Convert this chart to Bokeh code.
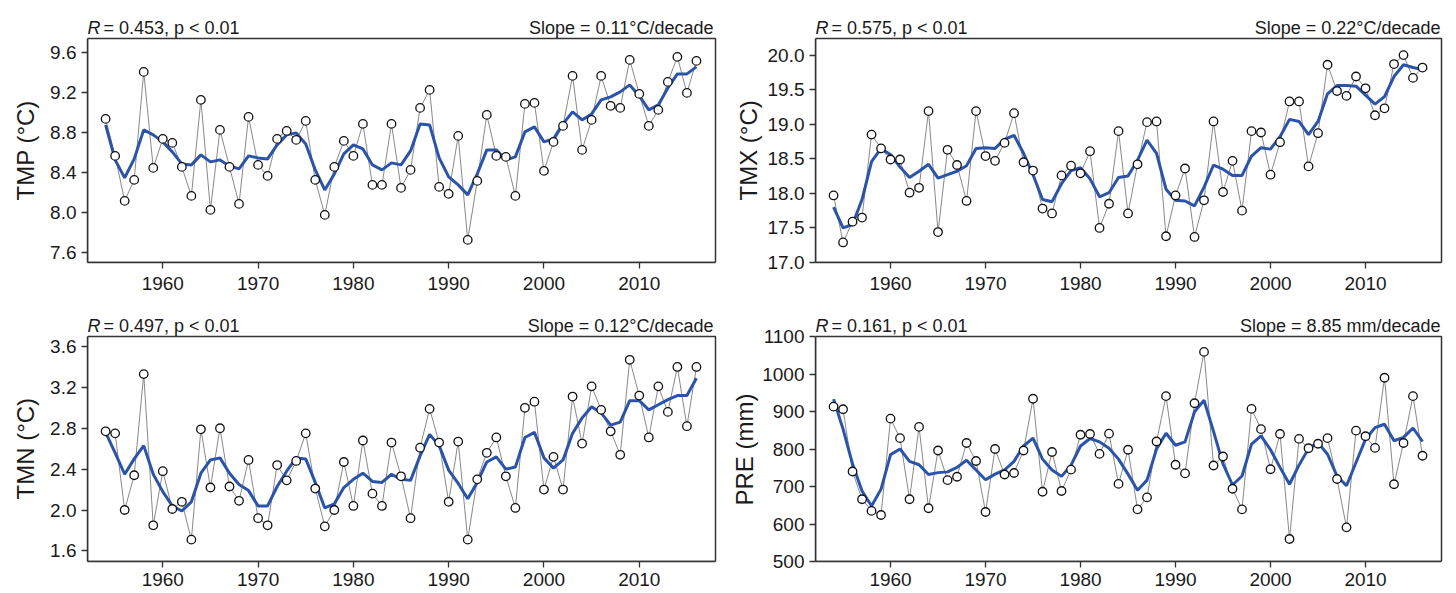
from bokeh.plotting import figure
from bokeh.layouts import gridplot
from bokeh.models import Range1d, FixedTicker, PrintfTickFormatter, Label, Title
from bokeh.embed import file_html
from bokeh.resources import INLINE

years = list(range(1954, 2017))
x_ticks = [1960, 1970, 1980, 1990, 2000, 2010]

tmp_obs = [8.94, 8.57, 8.12, 8.33, 9.41, 8.45, 8.74, 8.70, 8.46, 8.17,
           9.13, 8.03, 8.83, 8.46, 8.09, 8.96, 8.48, 8.37, 8.74, 8.82,
           8.73, 8.92, 8.33, 7.98, 8.46, 8.72, 8.57, 8.89, 8.28, 8.28,
           8.89, 8.25, 8.43, 9.05, 9.23, 8.26, 8.19, 8.77, 7.73, 8.32,
           8.98, 8.57, 8.56, 8.17, 9.09, 9.10, 8.42, 8.71, 8.87, 9.37,
           8.63, 8.93, 9.37, 9.07, 9.05, 9.53, 9.19, 8.87, 9.03, 9.31,
           9.56, 9.20, 9.52]
tmp_smooth = [8.88, 8.53, 8.35, 8.54, 8.83, 8.78, 8.71, 8.61, 8.49, 8.48,
              8.58, 8.51, 8.53, 8.47, 8.44, 8.57, 8.55, 8.54, 8.68, 8.78,
              8.80, 8.69, 8.43, 8.23, 8.39, 8.59, 8.68, 8.64, 8.48, 8.43,
              8.50, 8.48, 8.62, 8.89, 8.88, 8.55, 8.36, 8.28, 8.18, 8.39,
              8.63, 8.63, 8.53, 8.56, 8.81, 8.86, 8.71, 8.74, 8.89, 9.01,
              8.93, 8.99, 9.13, 9.16, 9.21, 9.28, 9.17, 9.03, 9.08, 9.25,
              9.39, 9.39, 9.46]

tmx_obs = [17.97, 17.29, 17.59, 17.65, 18.85, 18.65, 18.49, 18.49, 18.01, 18.08,
           19.19, 17.44, 18.63, 18.41, 17.89, 19.19, 18.54, 18.47, 18.73, 19.16,
           18.45, 18.33, 17.78, 17.71, 18.26, 18.40, 18.29, 18.61, 17.50, 17.85,
           18.90, 17.71, 18.42, 19.03, 19.04, 17.38, 17.97, 18.36, 17.37, 17.90,
           19.04, 18.02, 18.47, 17.75, 18.90, 18.88, 18.27, 18.74, 19.33, 19.33,
           18.39, 18.87, 19.86, 19.48, 19.41, 19.69, 19.52, 19.13, 19.23, 19.87,
           20.00, 19.67, 19.82]
tmx_smooth = [17.80, 17.50, 17.55, 17.91, 18.46, 18.65, 18.56, 18.38, 18.23, 18.32,
              18.42, 18.22, 18.27, 18.32, 18.40, 18.65, 18.66, 18.65, 18.78, 18.84,
              18.58, 18.27, 17.91, 17.88, 18.14, 18.33, 18.37, 18.21, 17.95, 18.01,
              18.23, 18.25, 18.48, 18.77, 18.58, 18.06, 17.90, 17.89, 17.82, 18.09,
              18.41, 18.35, 18.26, 18.26, 18.54, 18.66, 18.64, 18.82, 19.07, 19.04,
              18.85, 19.04, 19.44, 19.56, 19.56, 19.55, 19.42, 19.29, 19.40, 19.69,
              19.86, 19.82, 19.79]

tmn_obs = [2.77, 2.75, 2.00, 2.34, 3.33, 1.85, 2.38, 2.01, 2.08, 1.71,
           2.79, 2.22, 2.80, 2.23, 2.09, 2.49, 1.92, 1.85, 2.44, 2.29,
           2.48, 2.75, 2.21, 1.84, 2.00, 2.47, 2.04, 2.68, 2.16, 2.04,
           2.66, 2.33, 1.92, 2.61, 2.99, 2.66, 2.08, 2.67, 1.71, 2.30,
           2.56, 2.71, 2.33, 2.02, 3.00, 3.06, 2.20, 2.52, 2.20, 3.11,
           2.65, 3.21, 2.98, 2.77, 2.54, 3.47, 3.12, 2.71, 3.21, 2.96,
           3.40, 2.82, 3.40]
tmn_smooth = [2.76, 2.56, 2.35, 2.50, 2.63, 2.35, 2.18, 2.04, 1.99, 2.08,
              2.36, 2.49, 2.51, 2.36, 2.25, 2.19, 2.04, 2.04, 2.23, 2.38,
              2.51, 2.50, 2.27, 2.02, 2.06, 2.22, 2.30, 2.36, 2.28, 2.27,
              2.35, 2.30, 2.29, 2.53, 2.74, 2.63, 2.39, 2.26, 2.11, 2.27,
              2.47, 2.52, 2.40, 2.42, 2.71, 2.76, 2.51, 2.41, 2.49, 2.75,
              2.90, 3.01, 2.95, 2.83, 2.86, 3.07, 3.07, 2.98, 3.03, 3.08,
              3.12, 3.12, 3.29]

pre_obs = [913, 906, 740, 666, 635, 624, 881, 829, 666, 859,
           642, 796, 717, 726, 816, 768, 632, 800, 732, 736,
           796, 934, 686, 792, 688, 745, 838, 840, 787, 841,
           707, 798, 639, 671, 820, 941, 758, 735, 922, 1059,
           756, 780, 694, 639, 907, 853, 746, 840, 560, 827,
           802, 814, 829, 720, 591, 849, 834, 803, 990, 706,
           816, 941, 782]
pre_smooth = [933, 853, 760, 688, 648, 693, 785, 800, 767, 758,
              732, 737, 739, 751, 770, 744, 718, 733, 744, 767,
              808, 829, 773, 744, 727, 757, 808, 828, 819, 802,
              773, 733, 690, 717, 800, 842, 810, 819, 899, 930,
              847, 760, 704, 728, 813, 835, 798, 751, 706, 757,
              801, 817, 786, 728, 702, 764, 826, 857, 866, 822,
              831, 856, 820]

tmp_ticks = [7.6, 8.0, 8.4, 8.8, 9.2, 9.6]
tmx_ticks = [17.0, 17.5, 18.0, 18.5, 19.0, 19.5, 20.0]
tmn_ticks = [1.6, 2.0, 2.4, 2.8, 3.2, 3.6]
pre_ticks = [500, 600, 700, 800, 900, 1000, 1100]

FONT = "Liberation Sans"
DARK = "#333333"
TXT = "#1a1a1a"
X0, X1 = 1952.1, 2018.0


def panel(obs, smooth, y0, y1, ticks, fmt, ylabel, rtext, slope,
          W, H, bl, box_w, box_top, bb, title_standoff, title_offset,
          x_standoff, slope_dx):
    bt = 2
    pad = 3
    br = W - bl - box_w - pad
    ppx = box_w / (X1 - X0)
    box_h = H - bb - box_top
    ppu = box_h / (y1 - y0)
    ytop = y1 + (box_top - bt) / ppu
    p = figure(width=W, height=H, output_backend="svg", toolbar_location=None,
               x_range=Range1d(X0, X1 + pad / ppx), y_range=Range1d(y0, ytop),
               min_border_left=bl, min_border_right=br,
               min_border_top=bt, min_border_bottom=bb)
    p.title.visible = False
    p.background_fill_color = "white"
    p.border_fill_color = "white"
    p.outline_line_color = None
    p.xgrid.visible = False
    p.ygrid.visible = False
    for ax in (p.xaxis[0], p.yaxis[0]):
        ax.axis_line_color = DARK
        ax.axis_line_width = 1.5
        ax.major_tick_line_color = DARK
        ax.major_tick_line_width = 1.3
        ax.major_tick_in = 0
        ax.major_tick_out = 6
        ax.minor_tick_line_color = None
        ax.major_label_text_font = FONT
        ax.major_label_text_font_size = "19px"
        ax.major_label_text_color = TXT
    p.xaxis.ticker = FixedTicker(ticks=x_ticks)
    p.xaxis.bounds = (X0, X1)
    p.xaxis.major_label_standoff = x_standoff
    p.yaxis.ticker = FixedTicker(ticks=ticks)
    p.yaxis.bounds = (y0, y1)
    p.yaxis.formatter = PrintfTickFormatter(format=fmt)
    p.yaxis.major_label_standoff = 5

    # plot box (top and right edges; left and bottom come from the axes)
    p.quad(left=[X0], right=[X1], bottom=[y0], top=[y1], fill_color=None,
           line_color=DARK, line_width=1.5)

    p.line(years, obs, line_color="#7a7a7a", line_width=0.9)
    p.line(years, smooth, line_color="#2b54a8", line_width=3)
    p.scatter(years, obs, size=8.5, marker="circle", fill_color="white",
              line_color="#111111", line_width=1.3)

    common = dict(text_font=FONT, text_font_size="18px", text_color=TXT,
                  text_baseline="alphabetic")
    p.add_layout(Label(x=X0, y=y1, text="R", text_font_style="italic",
                       text_align="left", x_offset=0, y_offset=11, **common))
    p.add_layout(Label(x=X0, y=y1, text=rtext, text_align="left",
                       x_offset=16, y_offset=11, **common))
    p.add_layout(Label(x=X1, y=y1, text=slope, text_align="right",
                       x_offset=slope_dx, y_offset=11, **common))

    # y-axis title, centred on the plot box
    p.add_layout(Title(text=ylabel, align="left", vertical_align="middle",
                       offset=title_offset, standoff=title_standoff,
                       text_font=FONT, text_font_size="24px",
                       text_font_style="normal", text_color=TXT), "left")
    return p


p1 = panel(tmp_obs, tmp_smooth, 7.504, 9.744, tmp_ticks, "%.1f", "TMP (°C)",
           "= 0.453, p < 0.01", "Slope = 0.11°C/decade",
           728, 300, 87, 628, 38, 38, 15, 62, 8, -2)
p2 = panel(tmx_obs, tmx_smooth, 17.0, 20.24, tmx_ticks, "%.1f", "TMX (°C)",
           "= 0.575, p < 0.01", "Slope = 0.22°C/decade",
           728, 300, 85, 628, 38, 38, 4, 62, 8, -1)
p3 = panel(tmn_obs, tmn_smooth, 1.496, 3.698, tmn_ticks, "%.1f", "TMN (°C)",
           "= 0.497, p < 0.01", "Slope = 0.12°C/decade",
           728, 293, 87, 628, 36, 32, 15, 62, 5, -2)
p4 = panel(pre_obs, pre_smooth, 500, 1100, pre_ticks, "%d", "PRE (mm)",
           "= 0.161, p < 0.01", "Slope = 8.85 mm/decade",
           728, 293, 85, 628, 36, 32, 2, 56, 5, -1)

grid = gridplot([[p1, p2], [p3, p4]], toolbar_location=None)

open("out.html", "w").write(file_html(grid, INLINE))
